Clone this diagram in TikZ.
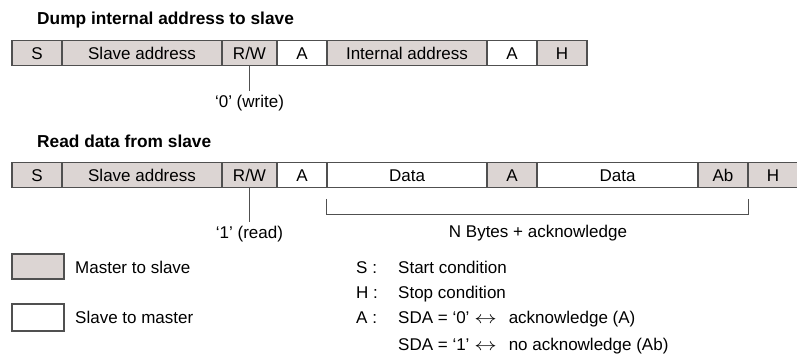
\documentclass[tikz,border=0pt]{standalone}
\usepackage{fontspec}
\usepackage{graphicx}
\setmainfont{Liberation Sans}
\usetikzlibrary{positioning,calc}
\definecolor{mgray}{HTML}{DCD5D3}
\definecolor{edge}{HTML}{505050}
\newcommand{\lrarr}{\scalebox{1.3}[1]{$\leftrightarrow$}}

\begin{document}
\begin{tikzpicture}[x=1pt,y=-1pt,font=\fontsize{17}{20}\selectfont,
 cell/.style={draw=edge,line width=1.1pt,minimum height=24.5pt,inner sep=0pt,text height=12.2pt,text depth=0pt,align=center},
 mst/.style={cell,fill=mgray},
 slv/.style={cell,fill=white},
 title/.style={font=\fontsize{17.3}{21}\selectfont\bfseries,anchor=base west,inner sep=0pt},
 lbl/.style={anchor=base},
 key/.style={anchor=base west,inner sep=0pt}]
\useasboundingbox (0,0) rectangle (797,356);
% write sequence
\node[title] (t1) at (37,24) {Dump internal address to slave};
\node[mst,minimum width=50pt] (s1) at (37,53) {S};
\node[mst,minimum width=160pt] (sa1) at (142,53) {Slave address};
\node[mst,minimum width=55pt] (rw1) at (249.5,53) {R/W};
\node[slv,minimum width=50pt] (a1) at (302,53) {A};
\node[mst,minimum width=160pt] (ia1) at (407,53) {Internal address};
\node[slv,minimum width=50pt] (a2) at (512,53) {A};
\node[mst,minimum width=50pt] (h1) at (562,53) {H};
\node[lbl] (wr) at (249.5,107) {‘0’ (write)};
\draw[edge,line width=0.9pt] (rw1.south) -- (wr);
% read sequence
\node[title] (t2) at (37,147) {Read data from slave};
\node[mst,minimum width=50pt] (s2) at (37,175) {S};
\node[mst,minimum width=160pt] (sa2) at (142,175) {Slave address};
\node[mst,minimum width=55pt] (rw2) at (249.5,175) {R/W};
\node[slv,minimum width=50pt] (a3) at (302,175) {A};
\node[slv,minimum width=160pt] (d1) at (407,175) {Data};
\node[mst,minimum width=50pt] (a4) at (512,175) {A};
\node[slv,minimum width=161pt] (d2) at (617.5,175) {Data};
\node[mst,minimum width=50pt] (ab) at (723,175) {Ab};
\node[mst,minimum width=50pt] (h2) at (773,175) {H};
\node[lbl] (rd) at (249.5,238) {‘1’ (read)};
\draw[edge,line width=0.9pt] (rw2.south) -- (rd);
\draw[edge,line width=0.9pt] ($(d1.south west)+(0,11)$) |- ($(ab.south east)+(0,27)$) -- ($(ab.south east)+(0,11)$);
\node[lbl] (nb) at (538,237) {N Bytes + acknowledge};
% legend
\node[mst,minimum width=52pt,minimum height=25pt] (lm) at (38,266.5) {};
\node[key] (lmt) at (75,273) {Master to slave};
\node[slv,minimum width=52pt,minimum height=27pt] (ls) at (38,317.5) {};
\node[key] (lst) at (75,323) {Slave to master};
\node[key] (ks) at (356,273) {S :};
\node[key] (kh) at (356,298) {H :};
\node[key] (ka) at (356,323) {A :};
\node[key] (ks2) at (398,273) {Start condition};
\node[key] (kh2) at (398,298) {Stop condition};
\node[key] (ka2) at (398,323) {SDA = ‘0’ \lrarr\hspace{7.3pt} acknowledge (A)};
\node[key] (ka3) at (398,350) {SDA = ‘1’ \lrarr\hspace{7.3pt} no acknowledge (Ab)};
\end{tikzpicture}
\end{document}
